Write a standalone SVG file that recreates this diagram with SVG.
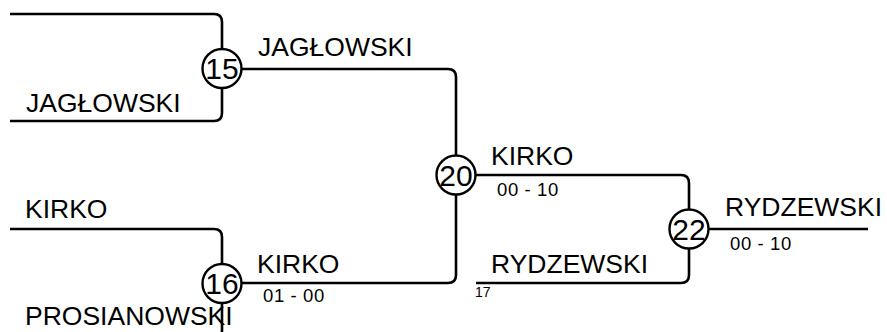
<svg xmlns="http://www.w3.org/2000/svg" width="887" height="332" viewBox="0 0 887 332">
<style>
.ln{fill:none;stroke:#000;stroke-width:2.6;stroke-linecap:butt}
.c{fill:#fff;stroke:#000;stroke-width:2.4}
.n{font-family:"Liberation Sans",Arial,sans-serif;font-size:30px;fill:#000;text-anchor:middle}
.nm{font-family:"Liberation Sans",Arial,sans-serif;font-size:26.5px;fill:#000}
.sc{font-family:"Liberation Sans",Arial,sans-serif;font-size:18.5px;fill:#000;letter-spacing:0.6px}
.sm{font-family:"Liberation Sans",Arial,sans-serif;font-size:14px;fill:#000}
</style>
<rect width="887" height="332" fill="#fff"/>
<g id="connectors">
<path class="ln" d="M10 14 H214 Q222 14 222 22 V50"/>
<path class="ln" d="M10 121 H214 Q222 121 222 113 V87"/>
<path class="ln" d="M241 69 H448 Q456 69 456 77 V156"/>
<path class="ln" d="M10 229 H214 Q222 229 222 237 V264"/>
<path class="ln" d="M10 338 H214 Q222 338 222 330 V302"/>
<path class="ln" d="M241 283 H448 Q456 283 456 275 V194"/>
<path class="ln" d="M475 175 H681 Q689 175 689 183 V210"/>
<path class="ln" d="M476 283 H681 Q689 283 689 275 V248"/>
<path class="ln" d="M708 229 H868"/>
</g>
<g id="node15"><circle class="c" cx="222" cy="68.5" r="19.5"/><text class="n" x="222" y="79">15</text></g>
<g id="node16"><circle class="c" cx="222" cy="283.5" r="19.5"/><text class="n" x="222" y="294">16</text></g>
<g id="node20"><circle class="c" cx="456" cy="175" r="19.5"/><text class="n" x="456" y="185.5">20</text></g>
<g id="node22"><circle class="c" cx="689" cy="229" r="19.5"/><text class="n" x="689" y="239.5">22</text></g>
<g id="labels">
<text class="nm" x="258" y="56">JAGŁOWSKI</text>
<text class="nm" x="26" y="112">JAGŁOWSKI</text>
<text class="nm" x="25" y="218">KIRKO</text>
<text class="nm" x="25" y="325">PROSIANOWSKI</text>
<text class="nm" x="257" y="273">KIRKO</text>
<text class="sc" x="263" y="302">01 - 00</text>
<text class="nm" x="491" y="165">KIRKO</text>
<text class="sc" x="497" y="195.5">00 - 10</text>
<text class="nm" x="491" y="273">RYDZEWSKI</text>
<text class="sm" x="475" y="296.5">17</text>
<text class="nm" x="725" y="216">RYDZEWSKI</text>
<text class="sc" x="730" y="250">00 - 10</text>
</g>
</svg>
